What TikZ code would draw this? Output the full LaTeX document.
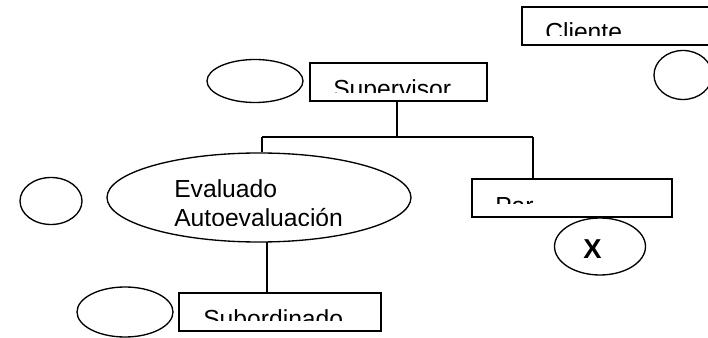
\documentclass[tikz,border=0pt]{standalone}
\usepackage{fontspec}
\setmainfont{Liberation Sans}
\usetikzlibrary{positioning,calc,shapes.geometric}

\tikzset{
  rolebox/.style={draw, rectangle, line width=1pt, inner sep=0pt, minimum height=28.5pt},
  blank/.style={draw, ellipse, line width=1pt, inner sep=0pt},
  lbl/.style={inner sep=0pt, anchor=base west, font=\fontsize{18.5}{22}\selectfont},
  link/.style={line width=1pt}
}

\begin{document}
\begin{tikzpicture}[x=0.75pt, y=-0.75pt]
   \useasboundingbox (0,0) rectangle (708,338);
   \clip (0,0) rectangle (708,338);

   \node[rolebox, minimum width=148.5pt] (cliente) at (621,26) {};
   \node[rolebox, minimum width=132.75pt] (supervisor) at (398.5,82) {};
   \node[rolebox, minimum width=150pt] (par) at (572,198) {};
   \node[rolebox, minimum width=151.5pt] (subordinado) at (280,312) {};

   \node[blank, minimum width=43.5pt, minimum height=36.75pt] (oCli) at (683,75) {};
   \node[blank, minimum width=72pt, minimum height=32.25pt] (oSup) at (255,81) {};
   \node[blank, minimum width=228pt, minimum height=66.75pt] (evaluado) at (259,197.5) {};
   \node[blank, minimum width=46.5pt, minimum height=35.25pt] (oEva) at (51,201) {};
   \node[blank, minimum width=68.25pt, minimum height=42.75pt] (oX) at (600,246.5) {};
   \node[blank, minimum width=72pt, minimum height=37.5pt] (oSub) at (125,312) {};

   \node[lbl, font=\fontsize{20.5}{24}\selectfont\bfseries, anchor=base] (tX) at (592.5,259) {X};
   \node[lbl] (tEva) at (174,197.7) {Evaluado};

   \begin{scope}
      \clip (522,7) rectangle (720,36);
      \node[lbl] (tCli) at (545,40.7) {Cliente};
   \end{scope}
   \begin{scope}
      \clip (310,63) rectangle (487,93);
      \node[lbl] (tSup) at (333,97.7) {Supervisor};
   \end{scope}
   \begin{scope}
      \clip (472,179) rectangle (672,204);
      \node[lbl] (tPar) at (495,214.7) {Par};
   \end{scope}
   \begin{scope}
      \clip (179,293) rectangle (381,321);
      \node[lbl] (tSub) at (203,327.7) {Subordinado};
   \end{scope}
   \begin{scope}
      \clip (110,200) rectangle (410,226);
      \node[lbl] (tAuto) at (174,226.7) {Autoevaluación};
   \end{scope}

   \coordinate (hub) at (397,137);
   \coordinate (barL) at (262,137);
   \coordinate (barR) at (533,137);
   \coordinate (evDown) at (267,242);

   \draw[link] (supervisor.south -| hub) -- (hub);
   \draw[link] (barL) -- (barR);
   \draw[link] (barL) -- (barL |- evaluado.north);
   \draw[link] (barR) -- (barR |- par.north);
   \draw[link] (evDown) -- (evDown |- subordinado.north);
\end{tikzpicture}
\end{document}
